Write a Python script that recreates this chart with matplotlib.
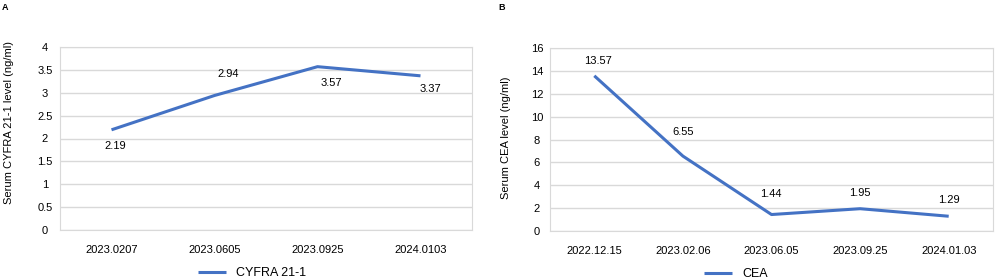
import matplotlib
matplotlib.use("Agg")
from matplotlib import pyplot as plt

plt.rcParams['font.family'] = ['Liberation Sans', 'DejaVu Sans']

# panel A
cyfra_dates = ["2023.0207", "2023.0605", "2023.0925", "2024.0103"]
cyfra_vals = [2.19, 2.94, 3.57, 3.37]
cyfra_offsets = [(4, -16), (14, 21), (14, -16), (10, -13)]

# panel B
cea_dates = ["2022.12.15", "2023.02.06", "2023.06.05", "2023.09.25", "2024.01.03"]
cea_vals = [13.57, 6.55, 1.44, 1.95, 1.29]
cea_offsets = [(4, 15), (0, 24), (-1, 21), (0, 16), (0, 16)]

blue = "#4472C4"
grid = "#d9d9d9"


def panel(ax, dates, vals, offsets, ymax, ystep, ylabel, name, legx, ypad):
    x = range(len(dates))
    ax.plot(x, vals, color=blue, lw=2.2, label=name, solid_capstyle="butt")
    for i, v in enumerate(vals):
        ax.annotate(f"{v:.2f}", (i, v), xytext=offsets[i], textcoords="offset pixels",
                    ha="center", va="center", fontsize=8)
    ax.set_xlim(-0.5, len(dates) - 0.5)
    ax.set_ylim(0, ymax)
    ticks = [k * ystep for k in range(int(round(ymax / ystep)) + 1)]
    ax.set_yticks(ticks)
    ax.set_yticklabels([f"{t:g}" for t in ticks], ha="center")
    ax.set_xticks(list(x))
    ax.set_xticklabels(dates)
    ax.tick_params(length=0, labelsize=8)
    ax.tick_params(axis="y", pad=ypad)
    ax.tick_params(axis="x", pad=11)
    ax.grid(axis="y", color=grid, lw=1)
    ax.set_axisbelow(True)
    for s in ax.spines.values():
        s.set_color(grid)
    ax.set_ylabel(ylabel, fontsize=8)
    ax.legend(loc="center", bbox_to_anchor=(legx, -0.235), frameon=False,
              fontsize=9, handlelength=2.2, handletextpad=0.8)


fig = plt.figure(figsize=(9.96, 2.8), dpi=100)
ax1 = fig.add_axes([60 / 996, 50 / 280, 412 / 996, 183 / 280])
ax2 = fig.add_axes([550 / 996, 49 / 280, 443 / 996, 183 / 280])

panel(ax1, cyfra_dates, cyfra_vals, cyfra_offsets, 4, 0.5,
      "Serum CYFRA 21-1 level (ng/ml)", "CYFRA 21-1", 0.466, 10.8)
panel(ax2, cea_dates, cea_vals, cea_offsets, 16, 2,
      "Serum CEA level (ng/ml)", "CEA", 0.42, 9.4)
ax1.yaxis.set_label_coords(-46 / 412, 0.59)
ax2.yaxis.set_label_coords(-39 / 443, 0.51)

fig.text(2 / 996, 1 - 8 / 280, "A", fontsize=6.5, fontweight="bold", va="center")
fig.text(498 / 996, 1 - 8 / 280, "B", fontsize=6.5, fontweight="bold", va="center")

fig.savefig("out.png", dpi=100)
